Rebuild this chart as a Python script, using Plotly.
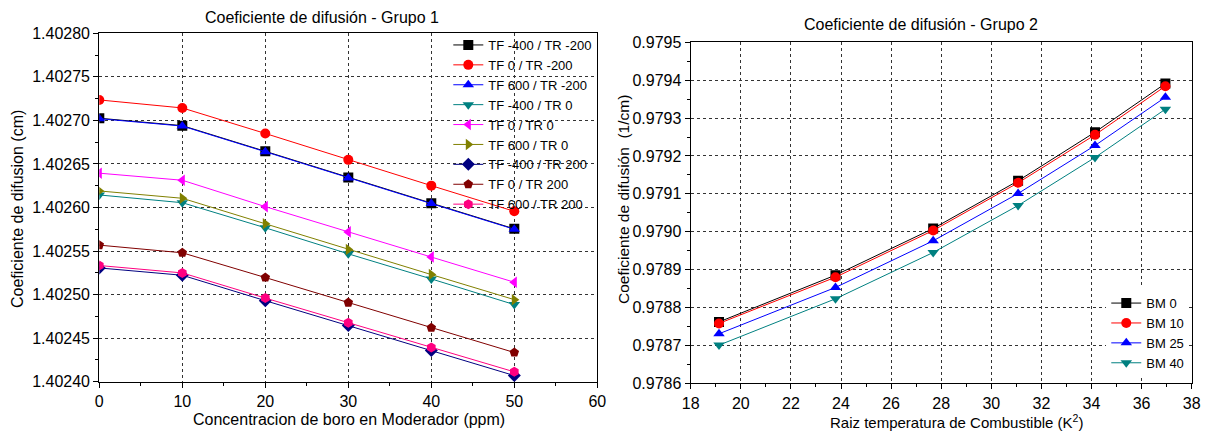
import plotly.graph_objects as go

# ---------------- data: Grupo 1 ----------------
boro_ppm = [0, 10, 20, 30, 40, 50]
g1_names = ["TF -400 / TR -200", "TF 0 / TR -200", "TF 600 / TR -200",
            "TF -400 / TR 0", "TF 0 / TR 0", "TF 600 / TR 0",
            "TF -400 / TR 200", "TF 0 / TR 200", "TF 600 / TR 200"]
tfm400_trm200 = [1.4027025, 1.4026940, 1.4026645, 1.4026345, 1.4026050, 1.4025755]
tf0_trm200 = [1.4027235, 1.4027143, 1.4026850, 1.4026547, 1.4026251, 1.4025956]
tf600_trm200 = [1.4027020, 1.4026935, 1.4026640, 1.4026340, 1.4026045, 1.4025750]
tfm400_tr0 = [1.4026144, 1.4026055, 1.4025767, 1.4025468, 1.4025180, 1.4024885]
tf0_tr0 = [1.4026394, 1.4026313, 1.4026010, 1.4025720, 1.4025433, 1.4025142]
tf600_tr0 = [1.4026190, 1.4026106, 1.4025813, 1.4025518, 1.4025230, 1.4024942]
tfm400_tr200 = [1.4025306, 1.4025222, 1.4024930, 1.4024646, 1.4024358, 1.4024070]
tf0_tr200 = [1.4025568, 1.4025480, 1.4025196, 1.4024908, 1.4024620, 1.4024335]
tf600_tr200 = [1.4025334, 1.4025249, 1.4024960, 1.4024677, 1.4024393, 1.4024113]
g1_series = [tfm400_trm200, tf0_trm200, tf600_trm200, tfm400_tr0, tf0_tr0,
             tf600_tr0, tfm400_tr200, tf0_tr200, tf600_tr200]

# ---------------- data: Grupo 2 ----------------
raiz_temp = [19.13, 23.78, 27.68, 31.07, 34.14, 36.95]
g2_names = ["BM 0", "BM 10", "BM 25", "BM 40"]
bm0 = [0.9787620, 0.9788855, 0.9790086, 0.9791344, 0.9792628, 0.9793912]
bm10 = [0.9787580, 0.9788800, 0.9790034, 0.9791291, 0.9792557, 0.9793842]
bm25 = [0.9787307, 0.9788529, 0.9789761, 0.9791009, 0.9792276, 0.9793551]
bm40 = [0.9787008, 0.9788230, 0.9789453, 0.9790693, 0.9791960, 0.9793235]
g2_series = [bm0, bm10, bm25, bm40]

# ---------------- styles ----------------
g1_colors = ["#000000", "#FF0000", "#0000FF", "#008080", "#FF00FF",
             "#808000", "#000080", "#800000", "#FF0080"]
g1_symbols = ["square", "circle", "triangle-up", "triangle-down", "triangle-left",
              "triangle-right", "diamond", "pentagon", "hexagon"]
g2_colors = ["#000000", "#FF0000", "#0000FF", "#008080"]
g2_symbols = ["square", "circle", "triangle-up", "triangle-down"]

FONT = "Liberation Sans, Arial, sans-serif"
W, H = 1210, 432

fig = go.Figure()
for name, ys, c, s in zip(g1_names, g1_series, g1_colors, g1_symbols):
    fig.add_trace(go.Scatter(x=boro_ppm, y=ys, name=name, mode="lines+markers",
                             line=dict(color=c, width=1),
                             marker=dict(symbol=s, size=10, color=c),
                             xaxis="x", yaxis="y", legend="legend"))
for name, ys, c, s in zip(g2_names, g2_series, g2_colors, g2_symbols):
    fig.add_trace(go.Scatter(x=raiz_temp, y=ys, name=name, mode="lines+markers",
                             line=dict(color=c, width=1),
                             marker=dict(symbol=s, size=10, color=c),
                             xaxis="x2", yaxis="y2", legend="legend2"))

# pixel geometry of the plot areas
L1, R1, T1, B1 = 99.3, 597.3, 33.3, 381.7
L2, R2, T2, B2 = 690.7, 1191.7, 42.3, 383.3
dx1 = [L1 / W, R1 / W]
dy1 = [1 - B1 / H, 1 - T1 / H]
dx2 = [L2 / W, R2 / W]
dy2 = [1 - B2 / H, 1 - T2 / H]

tickfont = dict(family=FONT, size=16, color="black")
grid = dict(showgrid=True, gridcolor="#333333", griddash="dot", gridwidth=1)
axbase = dict(showline=True, linecolor="black", linewidth=1.2, mirror=True,
              ticks="outside", ticklen=5, tickwidth=1, tickcolor="black",
              tickfont=tickfont, zeroline=False, automargin=False, **grid)
ovbase = dict(showticklabels=False, showgrid=False, showline=False, zeroline=False,
              ticks="inside", ticklen=5, tickcolor="black", automargin=False)

fig.update_layout(
    width=W, height=H, margin=dict(l=0, r=0, t=0, b=0, autoexpand=False),
    paper_bgcolor="white", plot_bgcolor="white",
    font=dict(family=FONT, color="black"),
    xaxis=dict(domain=dx1, anchor="y", range=[0, 60], dtick=10, tick0=0,
               minor=dict(dtick=5, ticks="outside", ticklen=3, tickcolor="black", showgrid=False),
               **axbase),
    yaxis=dict(domain=dy1, anchor="x", range=[1.4024, 1.4028], dtick=0.00005,
               tick0=1.4024, tickformat=".5f",
               minor=dict(dtick=0.000025, ticks="outside", ticklen=3, tickcolor="black", showgrid=False),
               **axbase),
    xaxis2=dict(domain=dx2, anchor="y2", range=[18, 38], dtick=2, tick0=18,
                minor=dict(dtick=1, ticks="outside", ticklen=3, tickcolor="black", showgrid=False),
                **axbase),
    yaxis2=dict(domain=dy2, anchor="x2", range=[0.9786, 0.9795], dtick=0.0001,
                tick0=0.9786, tickformat=".4f",
                minor=dict(dtick=0.00005, ticks="outside", ticklen=3, tickcolor="black", showgrid=False),
                **axbase),
    # inside ticks on the mirrored (top/right) sides
    xaxis3=dict(overlaying="x", anchor="y", side="top", range=[0, 60], dtick=10, tick0=0,
                minor=dict(dtick=5, ticks="inside", ticklen=3, tickcolor="black"), **ovbase),
    yaxis3=dict(overlaying="y", anchor="x", side="right", range=[1.4024, 1.4028],
                dtick=0.00005, tick0=1.4024,
                minor=dict(dtick=0.000025, ticks="inside", ticklen=3, tickcolor="black"), **ovbase),
    xaxis4=dict(overlaying="x2", anchor="y2", side="top", range=[18, 38], dtick=2, tick0=18,
                minor=dict(dtick=1, ticks="inside", ticklen=3, tickcolor="black"), **ovbase),
    yaxis4=dict(overlaying="y2", anchor="x2", side="right", range=[0.9786, 0.9795],
                dtick=0.0001, tick0=0.9786,
                minor=dict(dtick=0.00005, ticks="inside", ticklen=3, tickcolor="black"), **ovbase),
    legend=dict(x=dx1[1], xanchor="right", y=1 - 30 / H, yanchor="top",
                bgcolor="rgba(0,0,0,0)", borderwidth=0,
                font=dict(family=FONT, size=13, color="black"),
                itemwidth=30, tracegroupgap=0),
    legend2=dict(x=dx2[1] - 0.002, xanchor="right", y=dy2[0] + 0.012, yanchor="bottom",
                 bgcolor="white", borderwidth=0,
                 font=dict(family=FONT, size=13, color="black"),
                 itemwidth=30, tracegroupgap=0),
    showlegend=True,
)

ann = [
    dict(text="Coeficiente de difusión - Grupo 1", x=322 / W, y=1 - 17 / H,
         font=dict(size=16)),
    dict(text="Coeficiente de difusión - Grupo 2", x=921 / W, y=1 - 25 / H,
         font=dict(size=16)),
    dict(text="Concentracion de boro en Moderador (ppm)", x=349 / W, y=1 - 419 / H,
         font=dict(size=16)),
    dict(text="Raiz temperatura de Combustible (K<sup>2</sup>)", x=956 / W, y=1 - 421 / H,
         font=dict(size=15)),
    dict(text="Coeficiente de difusion (cm)", x=17 / W, y=1 - 209 / H, textangle=-90,
         font=dict(size=16)),
    dict(text="Coeficiente de difusión  (1/cm)", x=623 / W, y=1 - 200 / H, textangle=-90,
         font=dict(size=15.5)),
]
for a in ann:
    a.update(xref="paper", yref="paper", showarrow=False, xanchor="center", yanchor="middle")
    a["font"].update(family=FONT, color="black")
fig.update_layout(annotations=ann)

fig.write_html("out.html")
